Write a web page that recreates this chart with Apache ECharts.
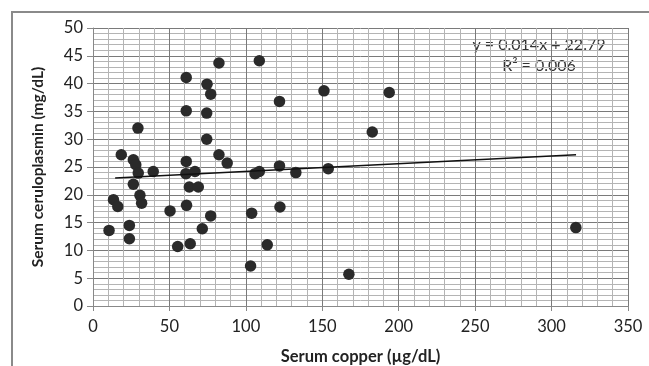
<!DOCTYPE html>
<html><head><meta charset="utf-8">
<script src="https://cdn.jsdelivr.net/npm/echarts@6/dist/echarts.min.js"></script>
<style>html,body{margin:0;padding:0;background:#fff}#c{width:649px;height:366px}</style>
</head><body><div id="c"></div>
<script>
const copper = [10.5,13.4,16.2,18.5,23.8,23.8,26.4,26.4,28.0,29.4,29.6,30.7,31.8,39.4,50.4,55.4,61.0,61.0,61.0,60.8,61.2,63.0,63.6,66.7,68.9,71.5,74.6,77.0,74.4,74.4,77.0,82.4,82.4,87.8,103.1,103.8,106.0,108.8,108.8,114.0,122.0,122.0,122.3,132.7,151.1,153.9,167.4,182.7,193.8,315.9];
const ceruloplasmin = [13.6,19.1,17.9,27.2,14.5,12.1,21.9,26.3,25.4,32.0,23.9,19.9,18.5,24.2,17.1,10.7,41.1,35.1,26.0,23.8,18.1,21.4,11.2,24.2,21.4,13.9,39.9,38.1,34.7,30.0,16.2,43.7,27.2,25.7,7.2,16.7,23.8,24.2,44.1,11.0,36.8,25.2,17.8,24.0,38.7,24.7,5.7,31.3,38.4,14.1];
const trendX = [14.5, 316];
const trendY = [23.0, 27.2];
const equationText = 'y = 0.014x + 22.79';
const r2Text = 'R² = 0.006';
const xTitle = 'Serum copper (µg/dL)';
const yTitle = 'Serum ceruloplasmin (mg/dL)';

const chart = echarts.init(document.getElementById('c'));
const font = 'Lato, "Open Sans", sans-serif';
chart.setOption({
  animation: false,
  grid: {left: 93, right: 21, top: 28, bottom: 60, containLabel: false, outerBoundsMode: 'none'},
  xAxis: {
    type: 'value', min: 0, max: 350, interval: 50,
    name: xTitle, nameLocation: 'middle', nameGap: 42,
    nameTextStyle: {fontFamily: font, fontWeight: 'bold', fontSize: 16.5, color: '#222'},
    axisLine: {show: true, onZero: false, lineStyle: {color: '#888', width: 1}},
    axisTick: {show: true, length: 5, lineStyle: {color: '#888'}},
    axisLabel: {fontFamily: font, fontSize: 16.5, color: '#222', margin: 12},
    splitLine: {show: true, lineStyle: {color: '#7a7a7a', width: 1}},
    minorTick: {show: false, splitNumber: 5},
    minorSplitLine: {show: true, lineStyle: {color: '#b4b4b4', width: 1}}
  },
  yAxis: {
    type: 'value', min: 0, max: 50, interval: 5,
    name: yTitle, nameLocation: 'middle', nameGap: 47,
    nameTextStyle: {fontFamily: font, fontWeight: 'bold', fontSize: 15.5, color: '#222'},
    axisLine: {show: true, lineStyle: {color: '#888', width: 1}},
    axisTick: {show: true, length: 6, lineStyle: {color: '#888'}},
    axisLabel: {fontFamily: font, fontSize: 16.5, color: '#222', margin: 10},
    splitLine: {show: true, lineStyle: {color: '#7a7a7a', width: 1}},
    minorTick: {show: false, splitNumber: 5},
    minorSplitLine: {show: true, lineStyle: {color: '#b4b4b4', width: 1}}
  },
  series: [
    {type: 'scatter', symbol: 'circle', symbolSize: 11.5,
     itemStyle: {color: '#2a2a2a', opacity: 1},
     data: copper.map((x, i) => [x, ceruloplasmin[i]]), z: 3},
    {type: 'line', showSymbol: false, symbol: 'none',
     lineStyle: {color: '#111', width: 1.5},
     data: trendX.map((x, i) => [x, trendY[i]]), z: 4}
  ],
  graphic: [
    {type: 'rect', shape: {x: 12, y: 12, width: 700, height: 400},
     style: {fill: 'none', stroke: '#8a8a8a', lineWidth: 2}, silent: true},
    {type: 'text', x: 539, y: 45, style: {text: equationText, font: '16px ' + font, fill: '#333', textAlign: 'center', textVerticalAlign: 'middle'}},
    {type: 'text', x: 539, y: 66, style: {text: r2Text, font: '16px ' + font, fill: '#333', textAlign: 'center', textVerticalAlign: 'middle'}}
  ]
});
</script></body></html>
